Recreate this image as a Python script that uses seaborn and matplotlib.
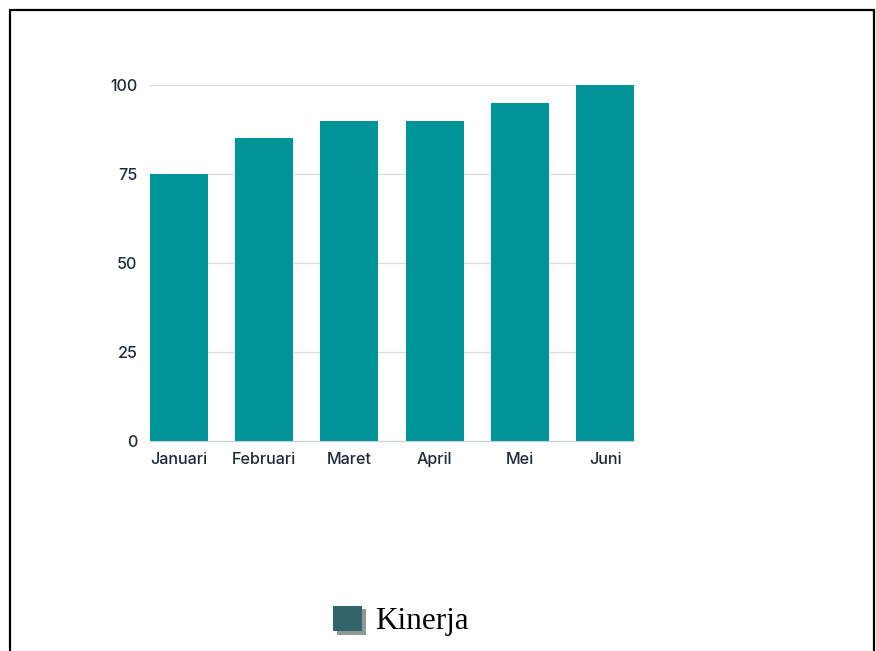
import matplotlib
matplotlib.use("Agg")
import matplotlib.pyplot as plt
import matplotlib.patches as mpatches
import matplotlib.patheffects as pe
from matplotlib.lines import Line2D
import seaborn as sns
import pandas as pd

months = ["Januari", "Februari", "Maret", "April", "Mei", "Juni"]
kinerja = [75, 85, 90, 90, 95, 100]
yticks = [0, 25, 50, 75, 100]

df = pd.DataFrame({"Bulan": months, "Kinerja": kinerja})

sns.set_style("white")
plt.rcParams["font.family"] = ["Inter", "DejaVu Sans"]

fig = plt.figure(figsize=(8.76, 6.51), dpi=100)
ax = fig.add_axes([150/876, 1-441/651, (634-150)/876, (441-85)/651])

sns.barplot(data=df, x="Bulan", y="Kinerja", color="#009499", saturation=1,
            width=0.68, ax=ax, edgecolor="none")
ax.set_xlim(-0.34, 5.34)
ax.set_ylim(0, 100)
ax.set_yticks(yticks)
ax.yaxis.grid(True, color="#dcdcdc", linewidth=0.9)
ax.set_axisbelow(True)
for s in ["top", "right", "left"]:
    ax.spines[s].set_visible(False)
ax.spines["bottom"].set_color("#c8d0d8")
ax.spines["bottom"].set_linewidth(0.8)
ax.set_xlabel("")
ax.set_ylabel("")
ax.tick_params(axis="both", length=0, labelsize=11.6, labelcolor="#1e2a3a")
ax.tick_params(axis="y", pad=9)
ax.tick_params(axis="x", pad=8)
for lab in ax.get_xticklabels() + ax.get_yticklabels():
    lab.set_fontweight("medium")

handle = mpatches.Patch(facecolor="#33646a", edgecolor="none", label="Kinerja",
                        path_effects=[pe.SimplePatchShadow(offset=(2.5, -2.5), shadow_rgbFace="#8e9898", alpha=1),
                                      pe.Normal()])
leg = fig.legend(handles=[handle], loc="center", bbox_to_anchor=(401/876, 1-621/651),
                 frameon=False, prop={"family": "Liberation Serif", "size": 22.5},
                 handlelength=0.93, handleheight=0.87, handletextpad=0.4)
for t in leg.get_texts():
    t.set_color("black")

# outer border (left, top, right)
lw = 1.6
fig.add_artist(Line2D([10/876, 10/876], [0, 1-10/651], color="black", linewidth=lw, transform=fig.transFigure))
fig.add_artist(Line2D([10/876, 874/876], [1-10/651, 1-10/651], color="black", linewidth=lw, transform=fig.transFigure))
fig.add_artist(Line2D([874/876, 874/876], [0, 1-10/651], color="black", linewidth=lw, transform=fig.transFigure))

fig.savefig("out.png", dpi=100)
